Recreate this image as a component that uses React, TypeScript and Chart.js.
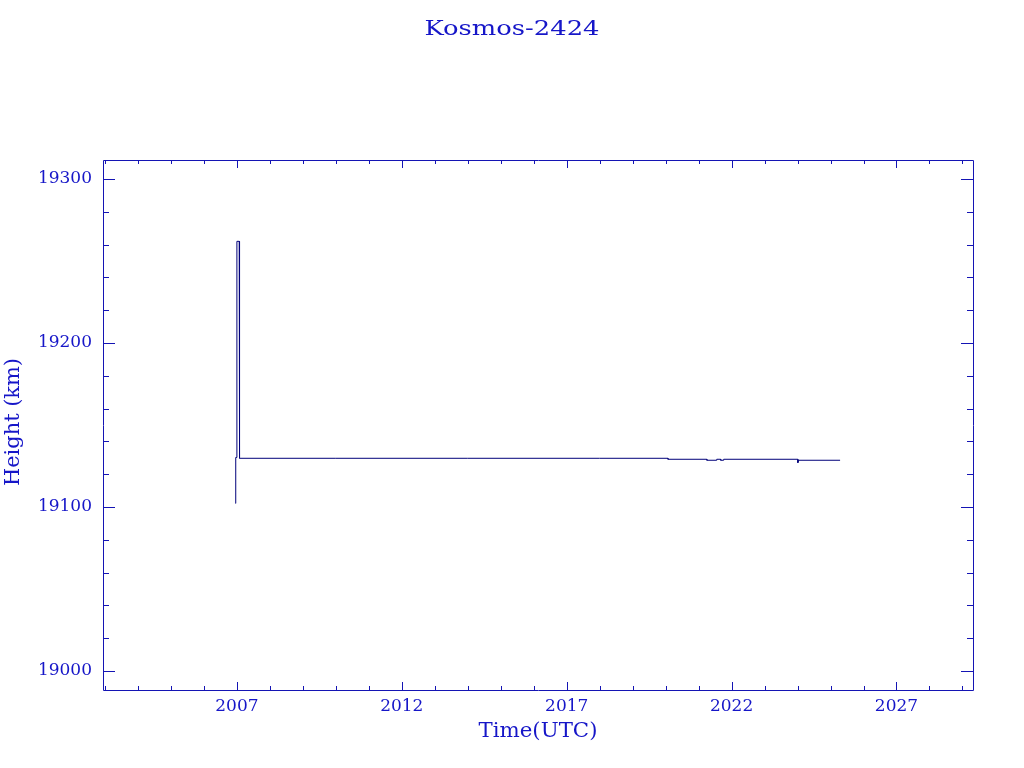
import { useEffect, useRef } from "react";
import { Chart, registerables } from "chart.js";

Chart.register(...registerables);

const TITLE = "Kosmos-2424";
const X_LABEL = "Time(UTC)";
const Y_LABEL = "Height (km)";

// Time in decimal years, height in km
const YEARS = [
  2006.955, 2006.955, 2006.97, 2006.97, 2007.0, 2007.0, 2007.07, 2007.07,
  2007.09, 2010.0, 2014.0, 2018.0, 2020.07, 2020.07, 2021.25, 2021.25,
  2021.55, 2021.55, 2021.67, 2021.67, 2021.76, 2021.76, 2024.01, 2024.01,
  2024.03, 2025.29,
];
const HEIGHTS = [
  19102.2, 19106.0, 19106.0, 19130.2, 19130.2, 19262.0, 19262.0, 19130.2,
  19129.7, 19129.7, 19129.7, 19129.7, 19129.7, 19129.1, 19129.1, 19128.5,
  19128.5, 19129.1, 19129.1, 19128.5, 19128.5, 19129.1, 19129.1, 19127.0,
  19128.5, 19128.5,
];

const X_TICKS = [2007, 2012, 2017, 2022, 2027];
const Y_TICKS = [19000, 19100, 19200, 19300];
const X_MIN = 2002.94;
const X_MAX = 2029.32;
const Y_MIN = 18988.4;
const Y_MAX = 19311.6;

const AXIS_COLOR = "#1414b4";
const TEXT_COLOR = "#1616c8";
const LINE_COLOR = "#00007a";
const FONT = "DejaVu Serif";

function stretchedText(
  ctx: CanvasRenderingContext2D,
  text: string,
  cx: number,
  cy: number,
  width: number
) {
  const w = ctx.measureText(text).width;
  ctx.save();
  ctx.translate(cx, cy);
  ctx.scale(width / w, 1);
  ctx.textAlign = "center";
  ctx.textBaseline = "middle";
  ctx.fillText(text, 0, 0);
  ctx.restore();
}

const framePlugin = {
  id: "frame",
  afterDraw(chart: any) {
    const ctx = chart.ctx as CanvasRenderingContext2D;
    const { left, right, top, bottom } = chart.chartArea;
    const xs = chart.scales.x;
    const ys = chart.scales.y;
    ctx.save();
    ctx.strokeStyle = AXIS_COLOR;
    ctx.lineWidth = 1;
    ctx.beginPath();
    ctx.rect(Math.round(left) + 0.5, Math.round(top) + 0.5, Math.round(right - left), Math.round(bottom - top));
    ctx.stroke();

    ctx.beginPath();
    for (let yr = Math.ceil(X_MIN); yr <= X_MAX; yr++) {
      const px = Math.round(xs.getPixelForValue(yr)) + 0.5;
      const len = (yr - 2007) % 5 === 0 ? 8 : 4;
      ctx.moveTo(px, bottom);
      ctx.lineTo(px, bottom - len);
      ctx.moveTo(px, top);
      ctx.lineTo(px, top + len);
    }
    for (let v = Math.ceil(Y_MIN / 20) * 20; v <= Y_MAX; v += 20) {
      const py = Math.round(ys.getPixelForValue(v)) + 0.5;
      const len = v % 100 === 0 ? 12 : 6;
      ctx.moveTo(left, py);
      ctx.lineTo(left + len, py);
      ctx.moveTo(right, py);
      ctx.lineTo(right - len, py);
    }
    ctx.stroke();

    ctx.fillStyle = TEXT_COLOR;
    ctx.font = `21px "${FONT}"`;
    stretchedText(ctx, TITLE, 512, 30, 175);

    ctx.font = `20px "${FONT}"`;
    stretchedText(ctx, X_LABEL, 538, 732, 119);

    ctx.save();
    ctx.translate(14, 422);
    ctx.rotate(-Math.PI / 2);
    stretchedText(ctx, Y_LABEL, 0, 0, 128);
    ctx.restore();

    ctx.restore();
  },
};

export default function App() {
  const ref = useRef<HTMLCanvasElement | null>(null);

  useEffect(() => {
    if (!ref.current) return;
    const chart = new Chart(ref.current, {
      type: "line",
      data: {
        datasets: [
          {
            data: YEARS.map((x, i) => ({ x, y: HEIGHTS[i] })),
            borderColor: LINE_COLOR,
            borderWidth: 1,
            pointRadius: 0,
            tension: 0,
            fill: false,
          },
        ],
      },
      options: {
        responsive: false,
        animation: false,
        layout: { padding: { left: 0, top: 160, right: 51, bottom: 0 } },
        plugins: {
          legend: { display: false },
          title: { display: false },
          tooltip: { enabled: false },
        },
        scales: {
          x: {
            type: "linear",
            min: X_MIN,
            max: X_MAX,
            afterBuildTicks: (s: any) => {
              s.ticks = X_TICKS.map((value) => ({ value }));
            },
            afterFit: (s: any) => {
              s.height = 78;
            },
            grid: { display: false, drawTicks: false },
            border: { display: false },
            ticks: {
              color: TEXT_COLOR,
              font: { family: FONT, size: 17 },
              padding: 6,
              maxRotation: 0,
              autoSkip: false,
              callback: (v: any) => String(v),
            },
          },
          y: {
            type: "linear",
            min: Y_MIN,
            max: Y_MAX,
            afterBuildTicks: (s: any) => {
              s.ticks = Y_TICKS.map((value) => ({ value }));
            },
            afterFit: (s: any) => {
              s.width = 103;
            },
            grid: { display: false, drawTicks: false },
            border: { display: false },
            ticks: {
              color: TEXT_COLOR,
              font: { family: FONT, size: 17 },
              padding: 11,
              autoSkip: false,
              callback: (v: any) => String(v),
            },
          },
        },
      },
      plugins: [framePlugin],
    });
    return () => chart.destroy();
  }, []);

  return (
    <canvas
      ref={ref}
      width={1024}
      height={768}
      style={{ position: "absolute", left: 0, top: 0, display: "block", background: "#fff" }}
    />
  );
}
